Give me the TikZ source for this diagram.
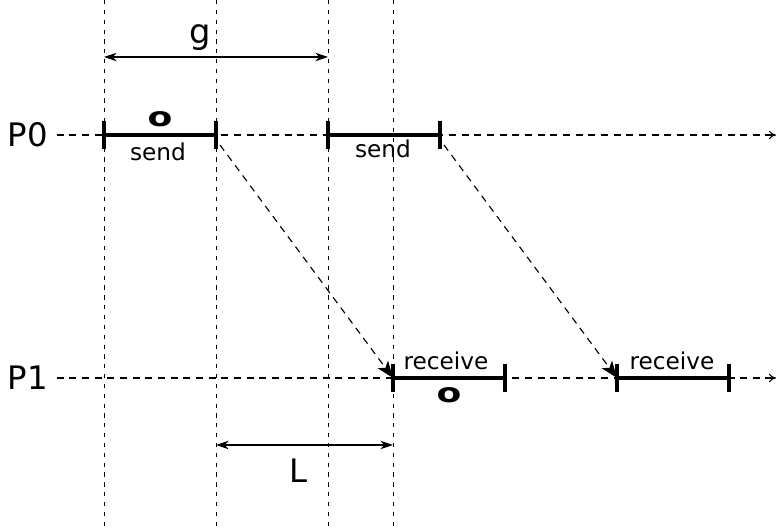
\documentclass[tikz,border=0pt]{standalone}
\usepackage{fontspec}
\setmainfont{DejaVu Sans}
\usetikzlibrary{arrows.meta, positioning, calc}

\tikzset{
  guide/.style={dash pattern=on 3pt off 4pt, line width=0.7pt},
  timeline/.style={dash pattern=on 5pt off 4pt, line width=0.8pt, -{To[length=5pt,width=6pt]}},
  busy/.style={line width=2.4pt},
  msg/.style={dash pattern=on 5pt off 4pt, line width=0.8pt, -{Stealth[length=12pt,width=9pt,inset=3pt]}},
  span/.style={line width=1pt, {Stealth[length=9pt,width=6pt]}-{Stealth[length=9pt,width=6pt]}},
  lbl/.style={inner sep=1pt, font=\fontsize{16.5}{16.5}\selectfont},
  big/.style={inner sep=1pt, font=\fontsize{23}{23}\selectfont},
  over/.style={inner sep=0pt, xscale=1.35, font=\fontsize{19}{19}\selectfont\bfseries},
}

\begin{document}
\begin{tikzpicture}[x=0.025cm, y=-0.025cm]
  \useasboundingbox (0,0) rectangle (776,530);

  % Vertical guides
  \foreach \x in {104, 216, 328, 393} {
    \draw[guide] (\x, 0) -- (\x, 530);
  }

  % Process lines
  \node[big] (p0) at (28, 135) {P0};
  \node[big] (p1) at (28, 378) {P1};
  \coordinate (p0end) at (776, 135);
  \coordinate (p1end) at (776, 378);
  \draw[timeline] (p0.east) ++(5pt,0) -- (p0end);
  \draw[timeline] (p1.east) ++(5pt,0) -- (p1end);

  % Send intervals on P0
  \foreach \a/\b/\n in {104/216/sa, 328/440/sb} {
    \coordinate (\n1) at (\a, 135);
    \coordinate (\n2) at (\b, 135);
    \draw[busy] (\n1) -- (\n2);
    \draw[busy] (\a, 121) -- (\a, 149);
    \draw[busy] (\b, 121) -- (\b, 149);
  }
  \node[lbl] at (158, 152) {send};
  \node[lbl] at (383, 149) {send};
  \node[over] at (160, 119) {o};

  % Receive intervals on P1
  \foreach \a/\b/\n in {393/505/ra, 617/729/rb} {
    \coordinate (\n1) at (\a, 378);
    \coordinate (\n2) at (\b, 378);
    \draw[busy] (\n1) -- (\n2);
    \draw[busy] (\a, 364) -- (\a, 392);
    \draw[busy] (\b, 364) -- (\b, 392);
  }
  \node[lbl] at (446, 361) {receive};
  \node[lbl] at (672, 361) {receive};
  \node[over] at (449, 395) {o};

  % Messages
  \draw[msg] ($(sa2)+(4,10)$) -- (ra1);
  \draw[msg] ($(sb2)+(4,10)$) -- (rb1);

  % Gap and latency
  \coordinate (g1) at (104, 57);
  \coordinate (g2) at (328, 57);
  \draw[span] (g1) -- (g2);
  \node[font=\fontsize{24}{24}\selectfont] at (200, 38) {g};

  \coordinate (l1) at (216, 445);
  \coordinate (l2) at (393, 445);
  \draw[span] (l1) -- (l2);
  \node[big] at (299, 471) {L};
\end{tikzpicture}
\end{document}
